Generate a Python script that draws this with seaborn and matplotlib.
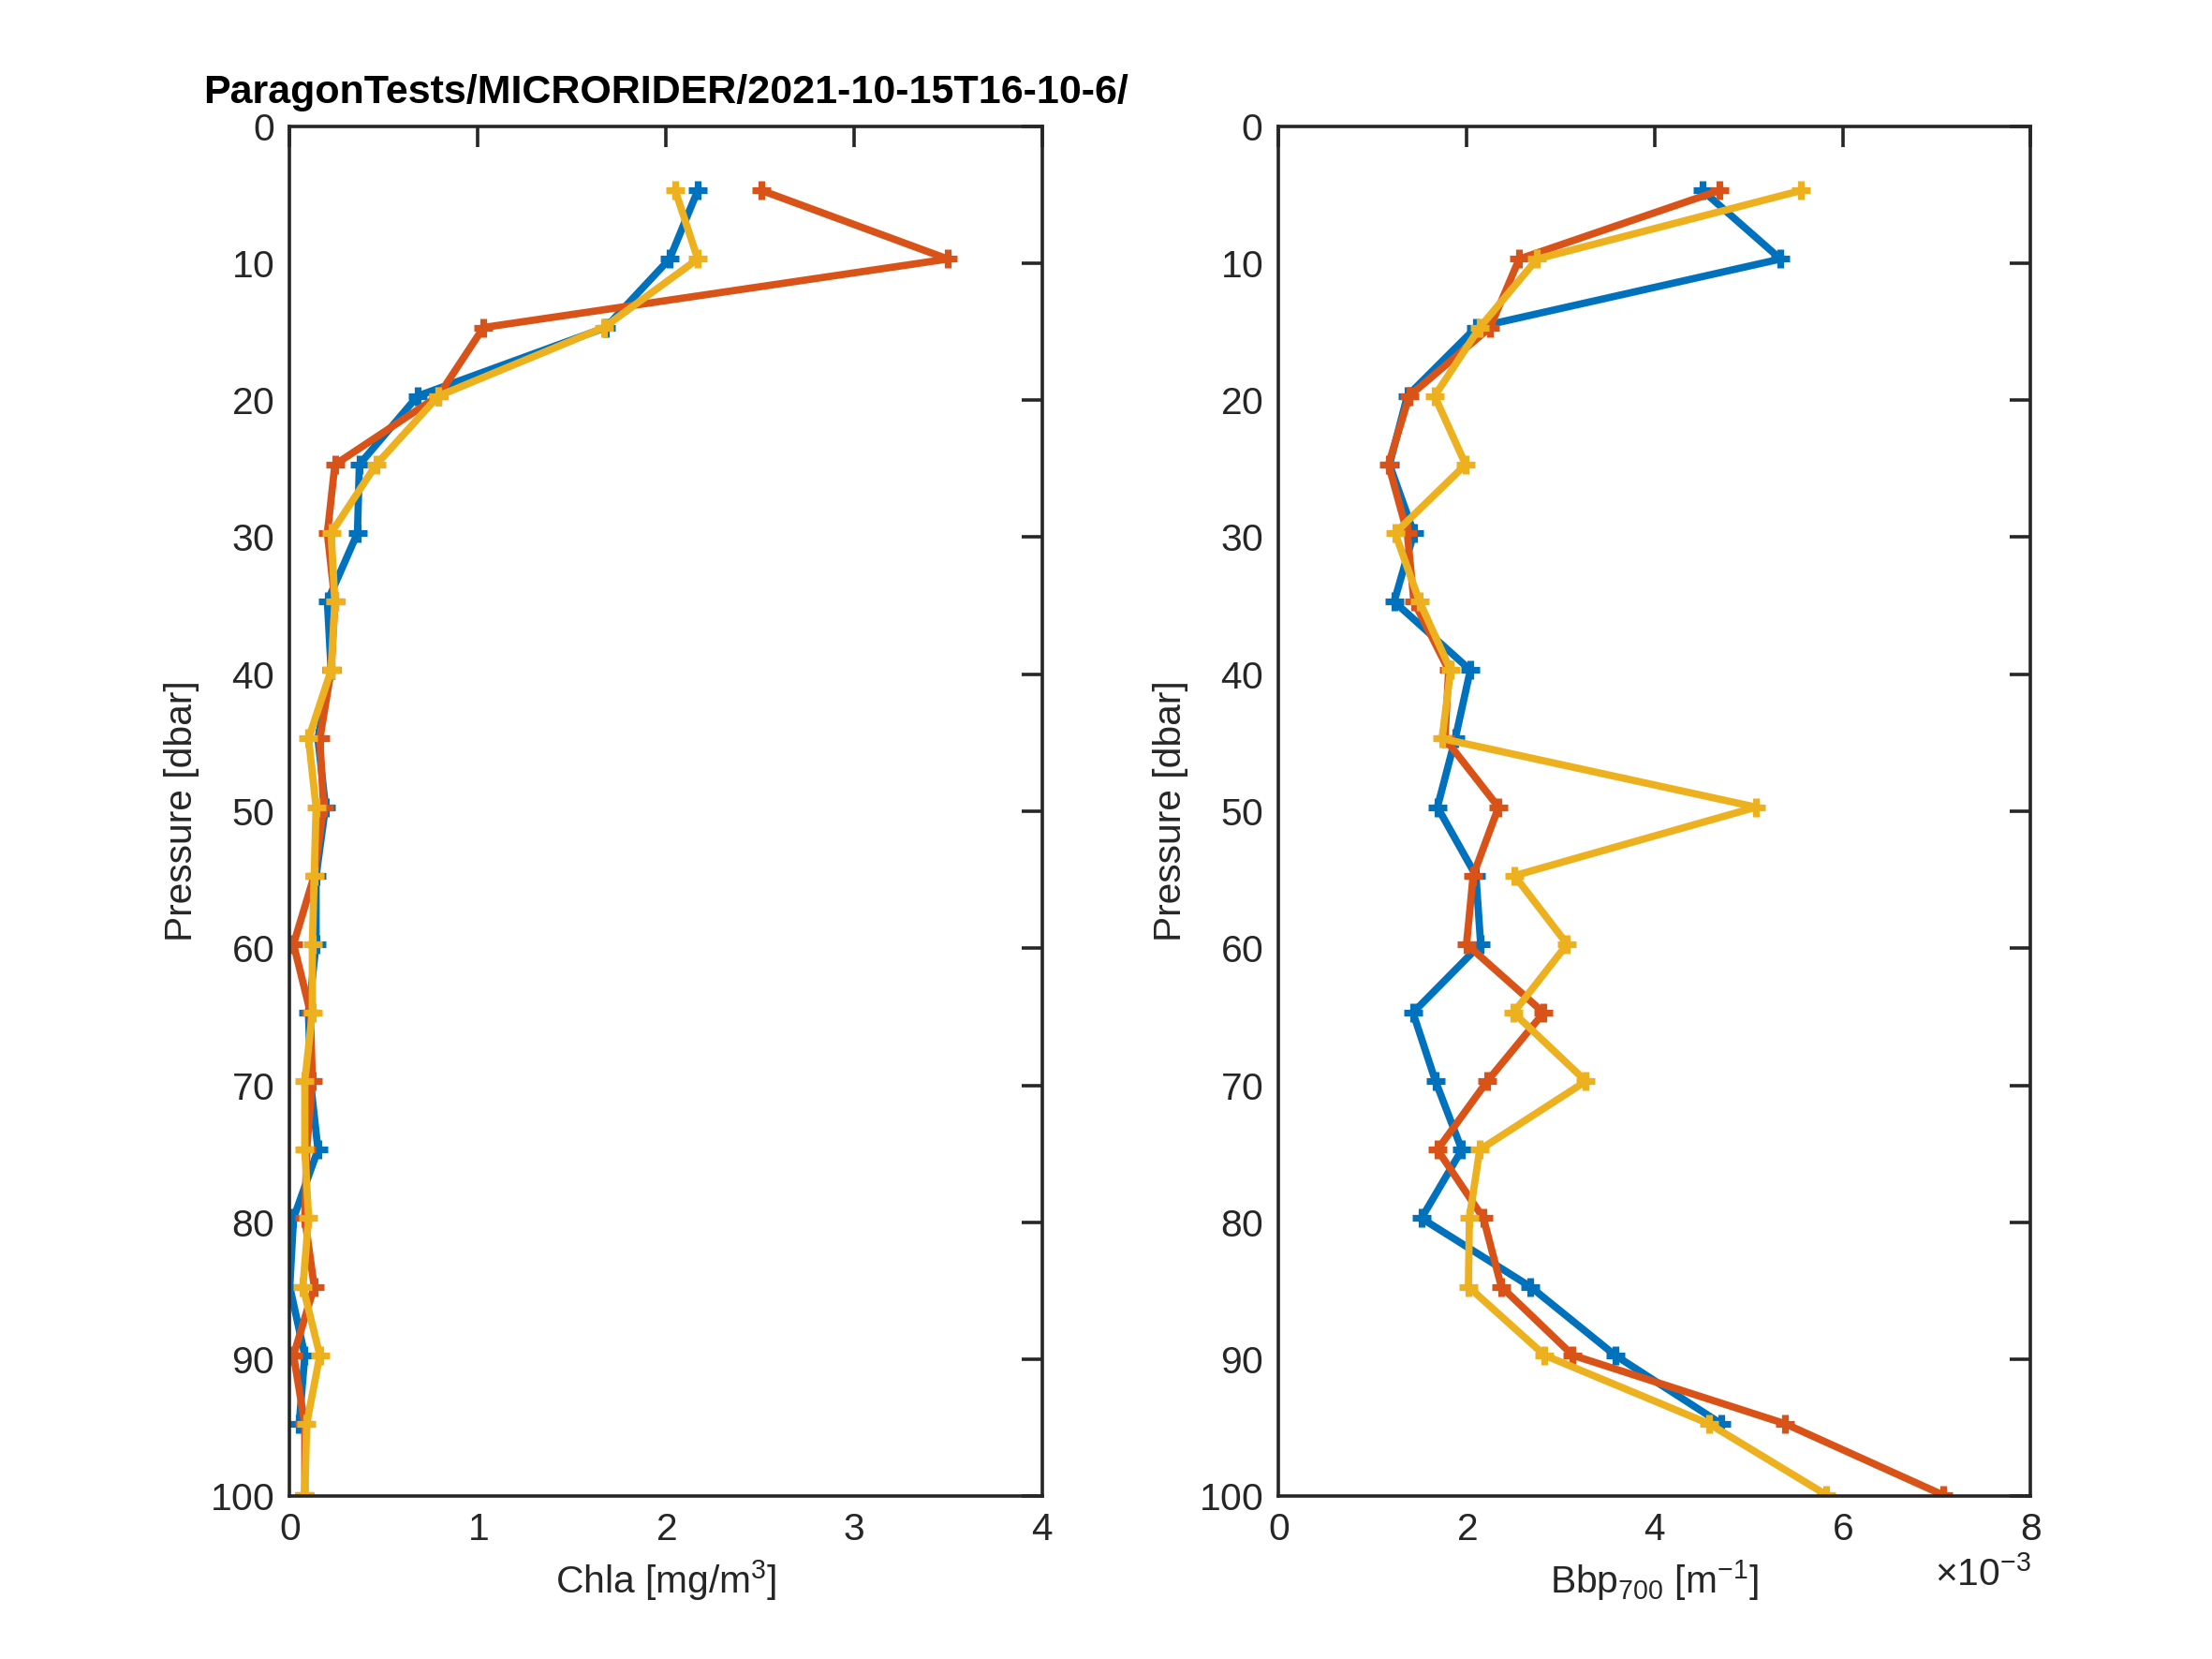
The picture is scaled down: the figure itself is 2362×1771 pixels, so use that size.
import numpy as np
import pandas as pd
import matplotlib
matplotlib.use("Agg")
import matplotlib.pyplot as plt
import seaborn as sns

# Druckstufen (dbar) der Profile
pres = [4.7, 9.7, 14.7, 19.7, 24.7, 29.7, 34.7, 39.7, 44.7, 49.7,
        54.7, 59.7, 64.7, 69.7, 74.7, 79.7, 84.7, 89.7, 94.7, 99.9]

# Chla [mg/m^3] - drei Profile (blau endet bei 95 dbar)
chla_1 = [2.17, 2.02, 1.68, 0.68, 0.37, 0.36, 0.20, 0.22, 0.15, 0.19,
          0.14, 0.14, 0.10, 0.11, 0.15, 0.02, 0.00, 0.08, 0.05]
chla_2 = [2.51, 3.50, 1.03, 0.79, 0.24, 0.20, 0.24, 0.22, 0.16, 0.18,
          0.13, 0.02, 0.11, 0.12, 0.09, 0.08, 0.13, 0.02, 0.08, 0.08]
chla_3 = [2.05, 2.17, 1.67, 0.79, 0.46, 0.22, 0.24, 0.22, 0.10, 0.14,
          0.13, 0.12, 0.12, 0.08, 0.08, 0.10, 0.07, 0.16, 0.09, 0.08]

# Bbp700 [1e-3 m^-1]
bbp_1 = [4.51, 5.34, 2.10, 1.37, 1.18, 1.44, 1.23, 2.04, 1.88, 1.69,
         2.10, 2.15, 1.43, 1.67, 1.95, 1.52, 2.68, 3.58, 4.71]
bbp_2 = [4.69, 2.56, 2.25, 1.39, 1.17, 1.37, 1.44, 1.81, 1.77, 2.34,
         2.07, 2.00, 2.82, 2.22, 1.69, 2.18, 2.37, 3.13, 5.39, 7.07]
bbp_3 = [5.56, 2.75, 2.14, 1.66, 1.99, 1.24, 1.50, 1.83, 1.74, 5.08,
         2.51, 3.07, 2.50, 3.27, 2.14, 2.03, 2.02, 2.83, 4.58, 5.83]

farben = ["#0072BD", "#D95319", "#EDB120"]
titel = "ParagonTests/MICRORIDER/2021-10-15T16-10-6/"


def lang_tabelle(profile, name, faktor=1.0):
    """Baut eine lange Tabelle (Profil, Druck, Wert) für seaborn."""
    teile = []
    for i, werte in enumerate(profile):
        teile.append(pd.DataFrame({
            "profil": f"p{i + 1}",
            "pres": pres[:len(werte)],
            name: np.array(werte) * faktor,
        }))
    return pd.concat(teile, ignore_index=True)


df_chla = lang_tabelle([chla_1, chla_2, chla_3], "chla")
df_bbp = lang_tabelle([bbp_1, bbp_2, bbp_3], "bbp", 1e-3)

sns.set_style("white")
plt.rcParams["font.family"] = ["Liberation Sans", "DejaVu Sans"]
plt.rcParams["mathtext.fontset"] = "custom"
plt.rcParams["mathtext.rm"] = "Liberation Sans"
plt.rcParams["mathtext.it"] = "Liberation Sans"
plt.rcParams["axes.formatter.use_mathtext"] = True

fs = 14.7
fig = plt.figure(figsize=(11.81, 8.855), dpi=200)
ax1 = fig.add_axes([0.131, 0.098, 0.340, 0.826])
ax2 = fig.add_axes([0.578, 0.098, 0.340, 0.826])

linien = dict(hue="profil", palette=farben, sort=False, estimator=None,
              marker="+", markersize=7.5, markeredgewidth=2.6, linewidth=2.8,
              legend=False)

sns.lineplot(data=df_chla, x="chla", y="pres", ax=ax1, **linien)
sns.lineplot(data=df_bbp, x="bbp", y="pres", ax=ax2, **linien)

for ax in (ax1, ax2):
    # seaborn setzt weiße Markerränder - auf Linienfarbe zurücksetzen
    for ln in ax.lines:
        ln.set_markeredgecolor(ln.get_color())
    ax.set_ylim(100, 0)
    ax.set_yticks(np.arange(0, 101, 10))
    ax.set_ylabel("Pressure [dbar]", fontsize=fs, color="#262626")
    ax.tick_params(direction="in", length=8, width=1.3, top=True, right=True,
                   labelsize=fs, colors="#262626", pad=6)
    for sp in ax.spines.values():
        sp.set_visible(True)
        sp.set_color("#262626")
        sp.set_linewidth(1.3)

ax1.set_xlim(0, 4)
ax1.set_xticks([0, 1, 2, 3, 4])
ax1.set_xlabel("Chla [mg/m$^3$]", fontsize=fs, color="#262626")
ax1.set_title(titel, fontsize=15.5, fontweight="bold", pad=9, color="black")

ax2.set_xlim(0, 8e-3)
ax2.set_xticks(np.arange(0, 8.1e-3, 2e-3))
ax2.ticklabel_format(axis="x", style="sci", scilimits=(-3, -3))
ax2.xaxis.get_offset_text().set_fontsize(fs)
ax2.xaxis.get_offset_text().set_color("#262626")
ax2.set_xlabel("Bbp$_{700}$ [m$^{-1}$]", fontsize=fs, color="#262626")

fig.savefig("out.png", dpi=200)
